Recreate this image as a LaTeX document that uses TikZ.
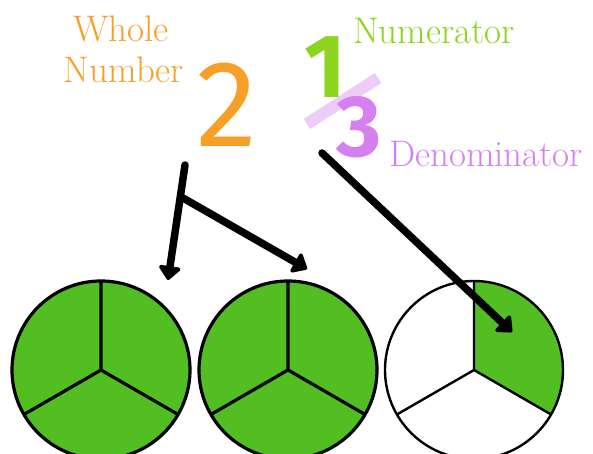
\documentclass[tikz,border=0pt]{standalone}
\usepackage{fontspec}
\newfontfamily\digitfont{Fira Sans}
\usetikzlibrary{arrows.meta,calc}
\definecolor{pieGreen}{RGB}{82,190,34}
\definecolor{wholeOrange}{RGB}{247,160,40}
\definecolor{numGreen}{RGB}{140,212,30}
\definecolor{denPurple}{RGB}{214,128,240}
\definecolor{slashLilac}{RGB}{238,204,248}
\tikzset{
  pointer/.style={line width=7.5pt, line cap=round, -{Triangle[length=15pt,width=25pt,round]}},
  wordtext/.style={inner sep=0pt, anchor=base, font=\fontsize{37}{40}\selectfont},
  bigdigit/.style={inner sep=0pt, anchor=base}
}

\begin{document}
\begin{tikzpicture}[x=1pt,y=1pt]
\useasboundingbox (0,0) rectangle (593,454);

\coordinate (pieA) at (101,84);
\coordinate (pieB) at (288,84);
\coordinate (pieC) at (474,84);

\foreach \c in {pieA,pieB}
  \fill[pieGreen] (\c) circle[radius=89];
\fill[pieGreen] (pieC) -- ++(330:89) arc[start angle=330,end angle=450,radius=89] -- cycle;
\foreach \c/\w in {pieA/3.2pt,pieB/3.2pt,pieC/2.4pt} {
  \draw[line width=\w] (\c) circle[radius=89];
  \draw[line width=\w] (\c) -- ++(90:89) (\c) -- ++(210:89) (\c) -- ++(330:89);
}

\draw[slashLilac, line width=12pt] (307,330) -- (378,376);
\node[bigdigit, text=wholeOrange, font=\digitfont\fontsize{123}{123}\selectfont] (two) at (227,307) {2};
\node[bigdigit, text=numGreen, font=\digitfont\bfseries\fontsize{90}{90}\selectfont] (one) at (325,356) {1};
\node[bigdigit, text=denPurple, font=\digitfont\bfseries\fontsize{87}{87}\selectfont] (three) at (359,297) {3};

\node[wordtext, text=wholeOrange] (whole) at (121,412) {Whole};
\node[wordtext, text=wholeOrange] (number) at (124,371) {Number};
\node[wordtext, text=numGreen] (numer) at (434,410) {Numerator};
\node[wordtext, text=denPurple] (denom) at (486,287) {Denominator};

\coordinate (stemtop) at (185,289);
\coordinate (fork) at (183,256);
\coordinate (tipA) at (168,174);
\coordinate (tipB) at (307,185);
\coordinate (tail) at (322,301);
\coordinate (tipC) at (512,122);

\draw[pointer] (stemtop) -- (tipA);
\draw[pointer] (fork) -- (tipB);
\draw[pointer] (tail) -- (tipC);
\end{tikzpicture}
\end{document}
